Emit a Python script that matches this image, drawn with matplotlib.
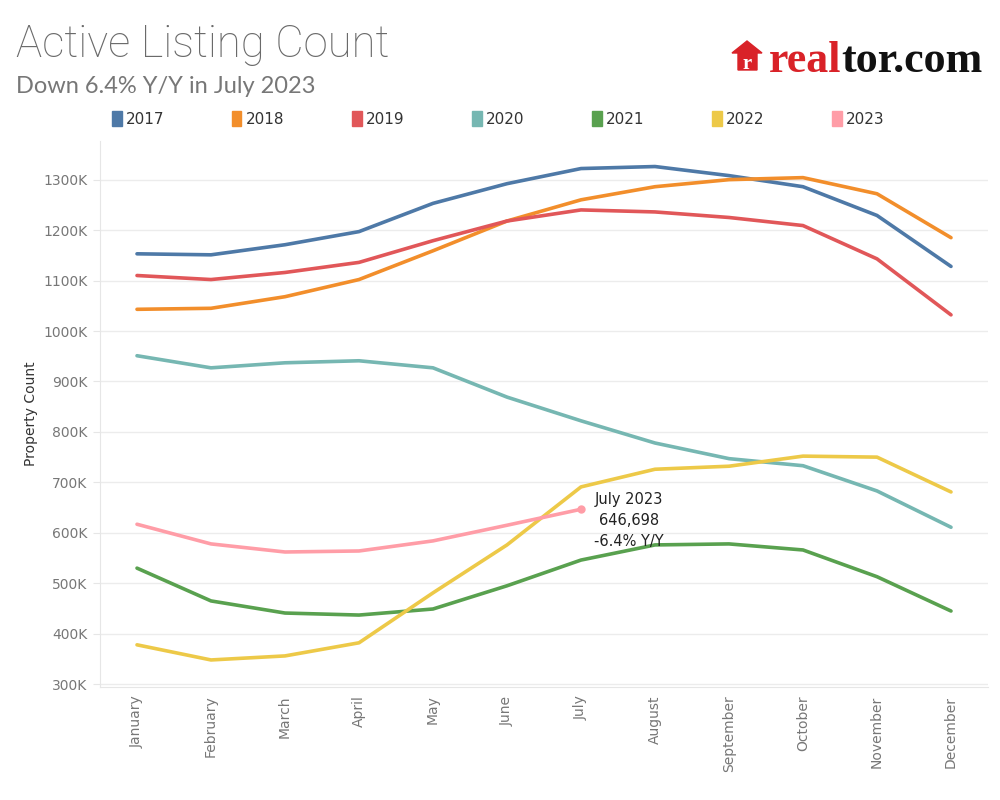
import matplotlib
matplotlib.use("Agg")
import matplotlib.pyplot as plt
from matplotlib.patches import Rectangle, Polygon
from matplotlib.ticker import FuncFormatter

months = ["January", "February", "March", "April", "May", "June", "July",
          "August", "September", "October", "November", "December"]
years = ["2017", "2018", "2019", "2020", "2021", "2022", "2023"]
colors = ["#4e79a7", "#f28e2b", "#e15759", "#76b7b2", "#59a14f", "#edc948", "#ff9da7"]

# values in thousands
y2017 = [1153, 1151, 1171, 1197, 1253, 1292, 1322, 1326, 1308, 1286, 1229, 1128]
y2018 = [1043, 1045, 1068, 1102, 1159, 1218, 1260, 1286, 1300, 1304, 1272, 1185]
y2019 = [1110, 1102, 1116, 1136, 1179, 1218, 1240, 1236, 1225, 1209, 1143, 1032]
y2020 = [951, 927, 937, 941, 927, 869, 822, 778, 747, 733, 683, 611]
y2021 = [530, 465, 441, 437, 449, 495, 546, 576, 578, 566, 513, 445]
y2022 = [378, 348, 356, 382, 481, 576, 691, 726, 732, 752, 750, 681]
y2023 = [617, 578, 562, 564, 584, 615, 646.698]
series = [y2017, y2018, y2019, y2020, y2021, y2022, y2023]

yticks = [300, 400, 500, 600, 700, 800, 900, 1000, 1100, 1200, 1300]

W, H = 1000, 800
fig = plt.figure(figsize=(10, 8), dpi=100)
ax = fig.add_axes([0.100, 0.141, 0.888, 0.683])

for vals, c in zip(series, colors):
    ax.plot(range(len(vals)), vals, color=c, lw=2.6, solid_capstyle="round", zorder=3)

# end dot for 2023
ax.plot([len(y2023) - 1], [y2023[-1]], "o", color=colors[-1], ms=5, zorder=4)

ax.set_xlim(-0.5, 11.5)
ax.set_ylim(294, 1377)
ax.set_yticks(yticks)
ax.yaxis.set_major_formatter(FuncFormatter(lambda v, p: f"{int(v)}K"))
ax.set_xticks(range(12))
ax.set_xticklabels(months, rotation=90, va="top", ha="center")
ax.grid(axis="y", color="#ececec", lw=1)
ax.set_axisbelow(True)
for s in ["top", "right"]:
    ax.spines[s].set_visible(False)
for s in ["left", "bottom"]:
    ax.spines[s].set_color("#e6e6e6")
ax.tick_params(axis="y", colors="#e6e6e6", labelcolor="#777777", labelsize=10, length=5, pad=4)
ax.tick_params(axis="x", length=0, labelcolor="#777777", labelsize=10, pad=6)
ax.set_ylabel("Property Count", fontsize=10, color="#333333", labelpad=4)

# annotation
ax.text(6.65, 625, "July 2023\n646,698\n-6.4% Y/Y", ha="center", va="center",
        fontsize=10.5, color="#222222", linespacing=1.5, zorder=5)

# titles
fig.text(0.016, 1 - 57 / H, "Active Listing Count", fontsize=31.5, color="#6a6a6a",
         fontfamily="Roboto", fontweight="light", va="baseline", ha="left")
fig.text(0.016, 1 - 93 / H, "Down 6.4% Y/Y in July 2023", fontsize=17, color="#777777",
         fontfamily="Lato", va="baseline", ha="left")

# legend
for i, (yr, c) in enumerate(zip(years, colors)):
    x0 = 0.112 + i * 0.120
    fig.patches.append(Rectangle((x0, 0.842), 0.0095, 0.019, transform=fig.transFigure,
                                 color=c, figure=fig))
    fig.text(x0 + 0.0135, 0.851, yr, fontsize=11, color="#333333", va="center", ha="left")

# realtor.com logo
house = Polygon([(738 / W, 1 - 70 / H), (738 / W, 1 - 53 / H), (732 / W, 1 - 53 / H),
                 (747 / W, 1 - 41 / H), (762 / W, 1 - 53 / H), (757 / W, 1 - 53 / H),
                 (757 / W, 1 - 70 / H)], closed=True,
                transform=fig.transFigure, color="#d92228", figure=fig)
fig.patches.append(house)
fig.text(747.5 / W, 1 - 69 / H, "r", fontsize=15, color="white", fontfamily="Liberation Serif",
         fontweight="bold", ha="center", va="baseline")

fig.canvas.draw()
renderer = fig.canvas.get_renderer()
size = 30
for _ in range(3):
    t1 = fig.text(769 / W, 1 - 72 / H, "real", fontsize=size, color="#d92228",
                  fontfamily="Liberation Serif", fontweight="bold", ha="left", va="baseline")
    bb1 = t1.get_window_extent(renderer)
    t2 = fig.text(bb1.x1 / W, 1 - 72 / H, "tor.com", fontsize=size, color="#111111",
                  fontfamily="Liberation Serif", fontweight="bold", ha="left", va="baseline")
    bb2 = t2.get_window_extent(renderer)
    total = bb2.x1 - bb1.x0
    target = 983 - 769
    if abs(total - target) < 2:
        break
    t1.remove()
    t2.remove()
    size = size * target / total

fig.savefig("out.png", dpi=100, facecolor="white")
